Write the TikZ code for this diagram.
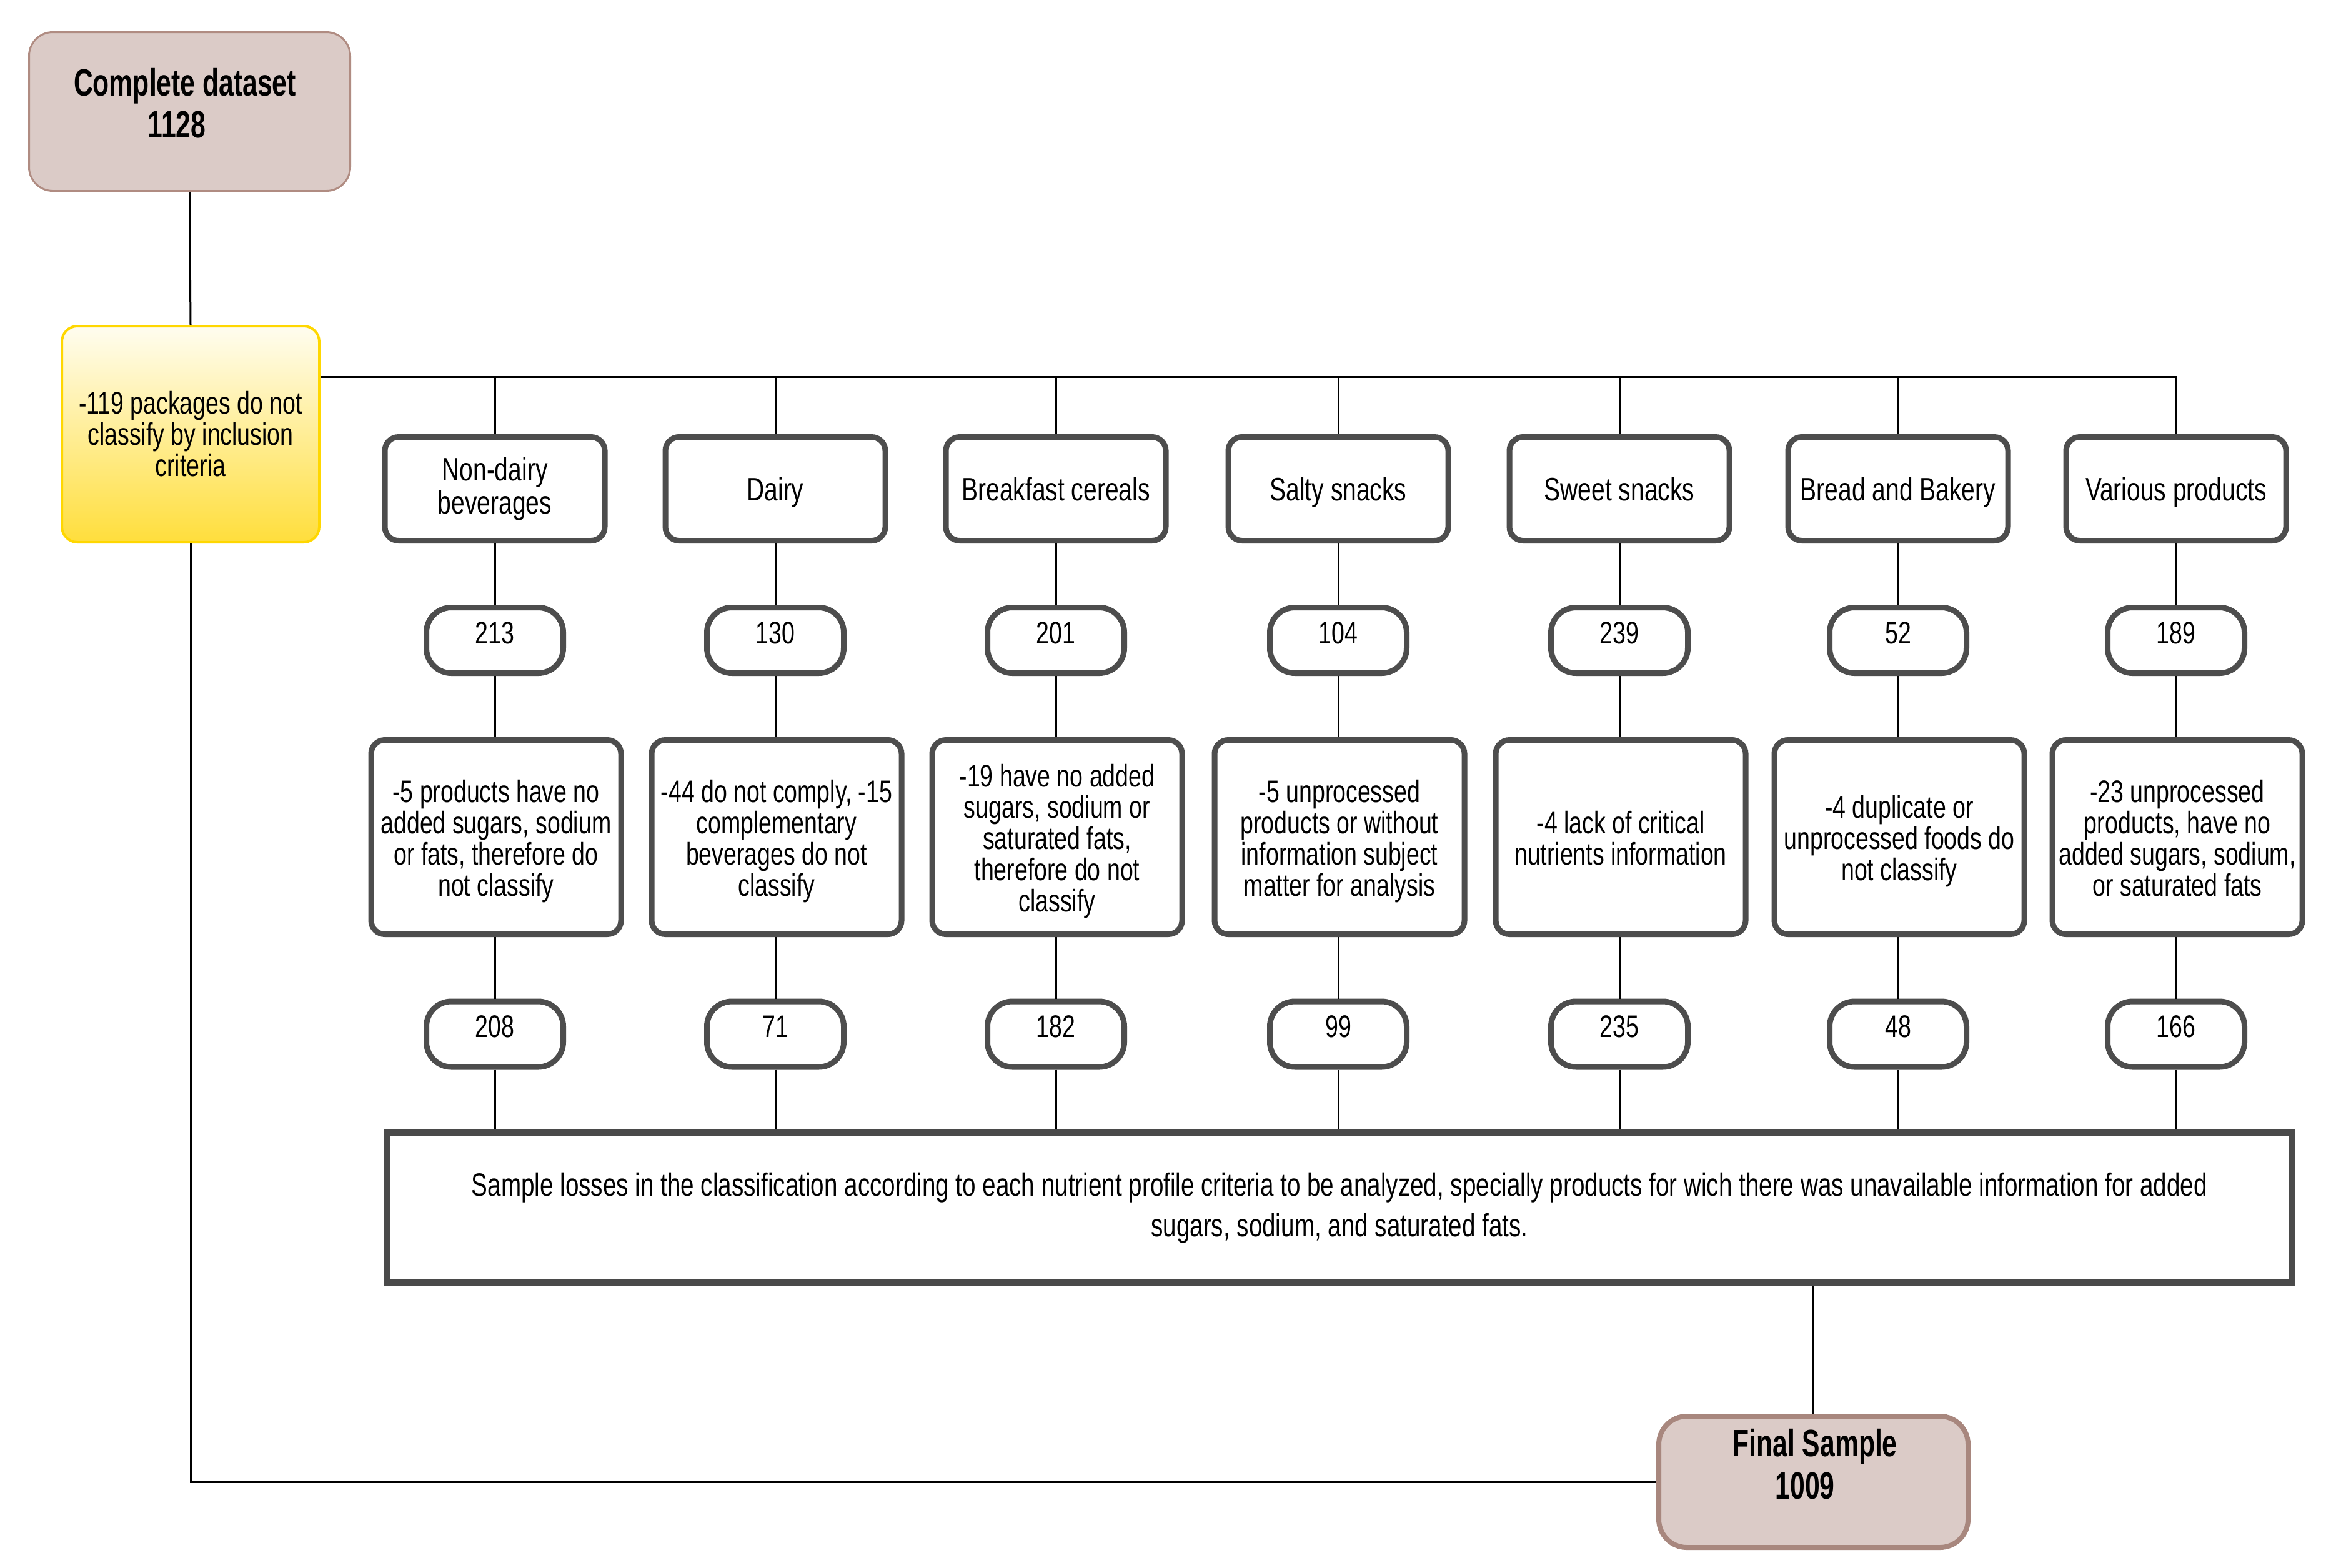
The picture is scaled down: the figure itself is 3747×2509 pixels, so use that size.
\documentclass[tikz,border=0pt]{standalone}
\usepackage{fontspec}
\setmainfont{Liberation Sans}[FakeStretch=0.75]
\newfontfamily\titlefont{Liberation Sans}[FakeStretch=0.7]
\usetikzlibrary{calc}
\definecolor{boxgray}{HTML}{4D4D4D}
\definecolor{biggray}{HTML}{4A4A4A}
\definecolor{rosefill}{HTML}{DBCBC7}
\definecolor{roseline}{HTML}{B08C82}
\definecolor{roseline2}{HTML}{A8877E}
\definecolor{ytop}{HTML}{FFFDF0}
\definecolor{ybot}{HTML}{FFDE3C}
\definecolor{yline}{HTML}{FFD700}
\newcommand\toprl{\rule{0pt}{50pt}}
\newcommand\botrl{\rule[-12pt]{0pt}{12pt}}
\begin{document}
\begin{tikzpicture}[x=1pt,y=-1pt,
  conn/.style={draw=black,line width=3pt},
  catbox/.style={draw=boxgray,line width=9pt,rounded corners=22pt,fill=white,
    minimum width=352pt,minimum height=166pt,inner sep=0pt,align=center,
    font=\fontsize{52}{53}\selectfont},
  oneline/.style={text height=49pt,text depth=12pt},
  numbox/.style={draw=boxgray,line width=9pt,rounded corners=40pt,fill=white,
    minimum width=219pt,minimum height=105pt,inner sep=0pt,text height=36pt,text depth=26pt,
    font=\fontsize{50}{50}\selectfont},
  descbox/.style={draw=boxgray,line width=9pt,rounded corners=22pt,fill=white,
    minimum width=400pt,minimum height=311pt,inner sep=0pt,align=center,
    font=\fontsize{50}{50}\selectfont},
  bigbox/.style={draw=biggray,line width=11pt,fill=white,
    minimum width=3049pt,minimum height=240pt,inner sep=0pt,align=center,
    font=\fontsize{51.5}{65}\selectfont},
  rosebox/.style={fill=rosefill,inner sep=0pt},
  yellowbox/.style={draw=yline,line width=4pt,rounded corners=25pt,top color=ytop,bottom color=ybot,
    minimum width=412pt,minimum height=346pt,inner sep=0pt,align=center,
    font=\fontsize{50}{50}\selectfont},
  titletext/.style={anchor=base,inner sep=0pt,font=\titlefont\bfseries\fontsize{61}{61}\selectfont}
]
\useasboundingbox (0,0) rectangle (3747,2509);

% top boxes
\node[rosebox,draw=roseline,line width=3pt,rounded corners=38pt,minimum width=514pt,minimum height=254pt] (complete) at (303.5,178.5) {};
\node[titletext] (completeA) at (296,153) {Complete dataset};
\node[titletext] (completeB) at (283,220) {1128};

\node[yellowbox] (yellow) at (305,695) {-119 packages do not\\classify by inclusion\\criteria};

% categories
\node[catbox] (c1) at (792,782.5) {Non-dairy\\beverages};
\node[catbox,oneline] (c2) at (1241,782.5) {Dairy};
\node[catbox,oneline] (c3) at (1690,782.5) {Breakfast cereals};
\node[catbox,oneline] (c4) at (2142,782.5) {Salty snacks};
\node[catbox,oneline] (c5) at (2592,782.5) {Sweet snacks};
\node[catbox,oneline] (c6) at (3038,782.5) {Bread and Bakery};
\node[catbox,oneline] (c7) at (3483,782.5) {Various products};

% first counts
\node[numbox] (n1) at (792,1025) {213};
\node[numbox] (n2) at (1241,1025) {130};
\node[numbox] (n3) at (1690,1025) {201};
\node[numbox] (n4) at (2142,1025) {104};
\node[numbox] (n5) at (2592,1025) {239};
\node[numbox] (n6) at (3038,1025) {52};
\node[numbox] (n7) at (3483,1025) {189};

% descriptions
\node[descbox] (d1) at (794,1340) {\toprl-5 products have no\\added sugars, sodium\\or fats, therefore do\\not classify\botrl};
\node[descbox] (d2) at (1243,1340) {\toprl-44 do not comply, -15\\complementary\\beverages do not\\classify\botrl};
\node[descbox] (d3) at (1692,1340) {\toprl-19 have no added\\sugars, sodium or\\saturated fats,\\therefore do not\\classify\botrl};
\node[descbox] (d4) at (2144,1340) {\toprl-5 unprocessed\\products or without\\information subject\\matter for analysis\botrl};
\node[descbox] (d5) at (2594,1340) {\toprl-4 lack of critical\\nutrients information\botrl};
\node[descbox] (d6) at (3040,1340) {\toprl-4 duplicate or\\unprocessed foods do\\not classify\botrl};
\node[descbox] (d7) at (3485,1340) {\toprl-23 unprocessed\\products, have no\\added sugars, sodium,\\or saturated fats\botrl};

% second counts
\node[numbox] (m1) at (792,1655.5) {208};
\node[numbox] (m2) at (1241,1655.5) {71};
\node[numbox] (m3) at (1690,1655.5) {182};
\node[numbox] (m4) at (2142,1655.5) {99};
\node[numbox] (m5) at (2592,1655.5) {235};
\node[numbox] (m6) at (3038,1655.5) {48};
\node[numbox] (m7) at (3483,1655.5) {166};

% summary box
\node[bigbox] (big) at (2144,1933.5) {Sample losses in the classification according to each nutrient profile criteria to be analyzed, specially products for wich there was unavailable information for added\\sugars, sodium, and saturated fats.};

% final
\node[rosebox,draw=roseline2,line width=8pt,rounded corners=45pt,minimum width=495pt,minimum height=210pt] (final) at (2902.5,2372) {};
\node[titletext] (finalA) at (2905,2331) {Final Sample};
\node[titletext] (finalB) at (2889,2399) {1009};

% connectors
\coordinate (busend) at (3484,603);
\draw[conn] (complete.south) -- (yellow.north);
\draw[conn] (yellow.east |- busend) -- (busend);
\foreach \i in {1,...,7}{
  \draw[conn] (c\i.north |- busend) -- (c\i.north);
  \draw[conn] (c\i.south) -- (n\i.north);
  \draw[conn] (n\i.south) -- (n\i.south |- d\i.north);
  \draw[conn] (m\i.north |- d\i.south) -- (m\i.north);
  \draw[conn] (m\i.south) -- (m\i.south |- big.north);
}
\draw[conn] (final.north |- big.south) -- (final.north);
\draw[conn] (yellow.south) -- (yellow.south |- final.west) -- (final.west);
\end{tikzpicture}
\end{document}
